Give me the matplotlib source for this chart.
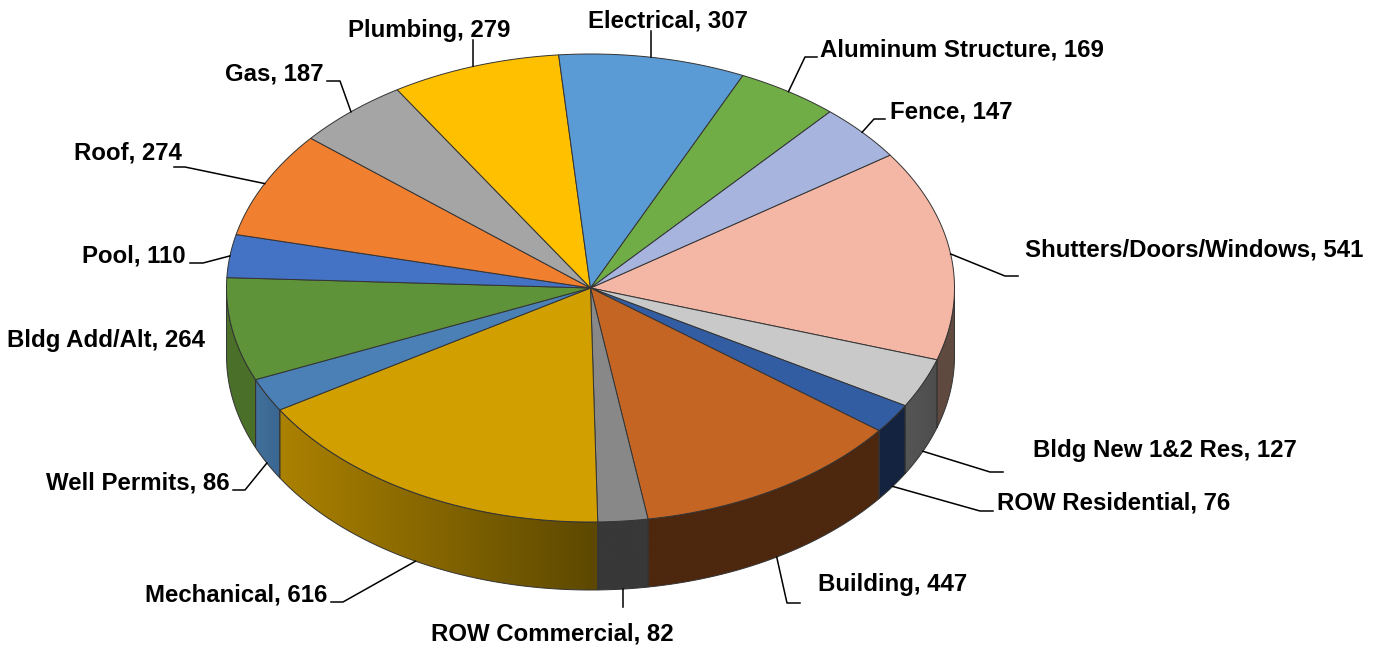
import numpy as np
import matplotlib
matplotlib.use('Agg')
import matplotlib.pyplot as plt
from matplotlib.colors import LinearSegmentedColormap
from matplotlib.patches import Polygon

plt.rcParams['font.family'] = ['Liberation Sans', 'DejaVu Sans']

# clockwise from the Fence/Shutters edge
names = ['Shutters/Doors/Windows', 'Bldg New 1&2 Res', 'ROW Residential', 'Building',
         'ROW Commercial', 'Mechanical', 'Well Permits', 'Bldg Add/Alt', 'Pool', 'Roof',
         'Gas', 'Plumbing', 'Electrical', 'Aluminum Structure', 'Fence']
values = [541, 127, 76, 447, 82, 616, 86, 264, 110, 274, 187, 279, 307, 169, 147]
top_colors = ['#F5B7A5', '#C9C9C9', '#335DA3', '#C46524', '#888888', '#D29F00', '#4A80B5',
              '#5F9339', '#4472C4', '#F07F30', '#A5A5A5', '#FFC000', '#5B9BD5', '#70AD47', '#A7B4DD']
# side wall colours, left end and right end
side_left = ['#604A40', '#555555', '#14233F', '#4D270E', '#383838', '#AB8100', '#41709C',
             '#4A7029']
side_right = ['#604A40', '#4E4E4E', '#14233F', '#4D270E', '#383838', '#5C4800', '#3A6690',
              '#4A7029']

# label left edge / vertical centre, leader elbow points
labels = {
    'Shutters/Doors/Windows': (1025, 250, [(1005, 276), (1018, 276)]),
    'Bldg New 1&2 Res': (1033, 451, [(990, 472), (1003, 472)]),
    'ROW Residential': (997, 503, [(980, 511), (993, 511)]),
    'Building': (818, 585, [(787, 603), (800, 603)]),
    'ROW Commercial': (431, 634, [(623, 607)]),
    'Mechanical': (145, 595, [(343, 602), (331, 602)]),
    'Well Permits': (46, 483, [(245, 490), (233, 490)]),
    'Bldg Add/Alt': (7, 340, []),
    'Pool': (82, 256, [(203, 263), (190, 263)]),
    'Roof': (74, 153, [(185, 167), (174, 167)]),
    'Gas': (225, 74, [(340, 81), (327, 81)]),
    'Plumbing': (348, 30, [(473, 40)]),
    'Electrical': (588, 21, [(651, 31)]),
    'Aluminum Structure': (820, 50, [(805, 57), (817, 57)]),
    'Fence': (890, 112, [(874, 119), (885, 119)]),
}

cx, cy, rx, ry, depth = 590.5, 288, 364, 234, 68
start_angle = 34.6
edge = '#333333'


def rim(a1, a2, dy=0):
    t = np.radians(np.linspace(a1, a2, 80))
    return np.column_stack([cx + rx * np.cos(t), cy - ry * np.sin(t) + dy])


fig = plt.figure(figsize=(13.73, 6.46), dpi=100)
ax = fig.add_axes([0, 0, 1, 1])
ax.set_xlim(0, 1373)
ax.set_ylim(646, 0)
ax.axis('off')

sweeps = np.array(values) / sum(values) * 360
ends = start_angle - np.cumsum(sweeps)
starts = ends + sweeps

# side walls, only the part facing the viewer
for i in range(len(side_left)):
    a1, a2 = min(starts[i], 0), max(ends[i], -180)
    top = rim(a1, a2)
    bottom = rim(a2, a1, depth)
    poly = Polygon(np.vstack([top, bottom]), closed=True, facecolor='none', edgecolor=edge, lw=0.7, zorder=2)
    ax.add_patch(poly)
    cmap = LinearSegmentedColormap.from_list('s', [side_left[i], side_right[i]])
    xs = np.vstack([top, bottom])[:, 0]
    ys = np.vstack([top, bottom])[:, 1]
    im = ax.imshow(np.linspace(0, 1, 256)[None, :], cmap=cmap, aspect='auto', zorder=1,
                   extent=[xs.min(), xs.max(), ys.max(), ys.min()])
    im.set_clip_path(poly)
ax.set_xlim(0, 1373)
ax.set_ylim(646, 0)

# top faces
for i in range(len(values)):
    pts = np.vstack([[cx, cy], rim(starts[i], ends[i])])
    ax.add_patch(Polygon(pts, closed=True, facecolor=top_colors[i], edgecolor=edge, lw=0.7, zorder=3))

# labels and leader lines
for i, name in enumerate(names):
    x, y, elbow = labels[name]
    ax.text(x, y, f'{name}, {values[i]}', fontsize=17.3, fontweight='bold', color='black',
            ha='left', va='center', zorder=5)
    if elbow:
        mid = np.radians((starts[i] + ends[i]) / 2)
        p0 = (cx + rx * np.cos(mid), cy - ry * np.sin(mid) + (depth if np.sin(mid) < 0 else 0))
        if len(elbow) == 1:
            p0 = (elbow[0][0], p0[1])  # straight leaders are vertical
        line = [p0] + elbow
        ax.plot([p[0] for p in line], [p[1] for p in line], color='black', lw=1.1, zorder=4)

fig.savefig('out.png', dpi=100)
